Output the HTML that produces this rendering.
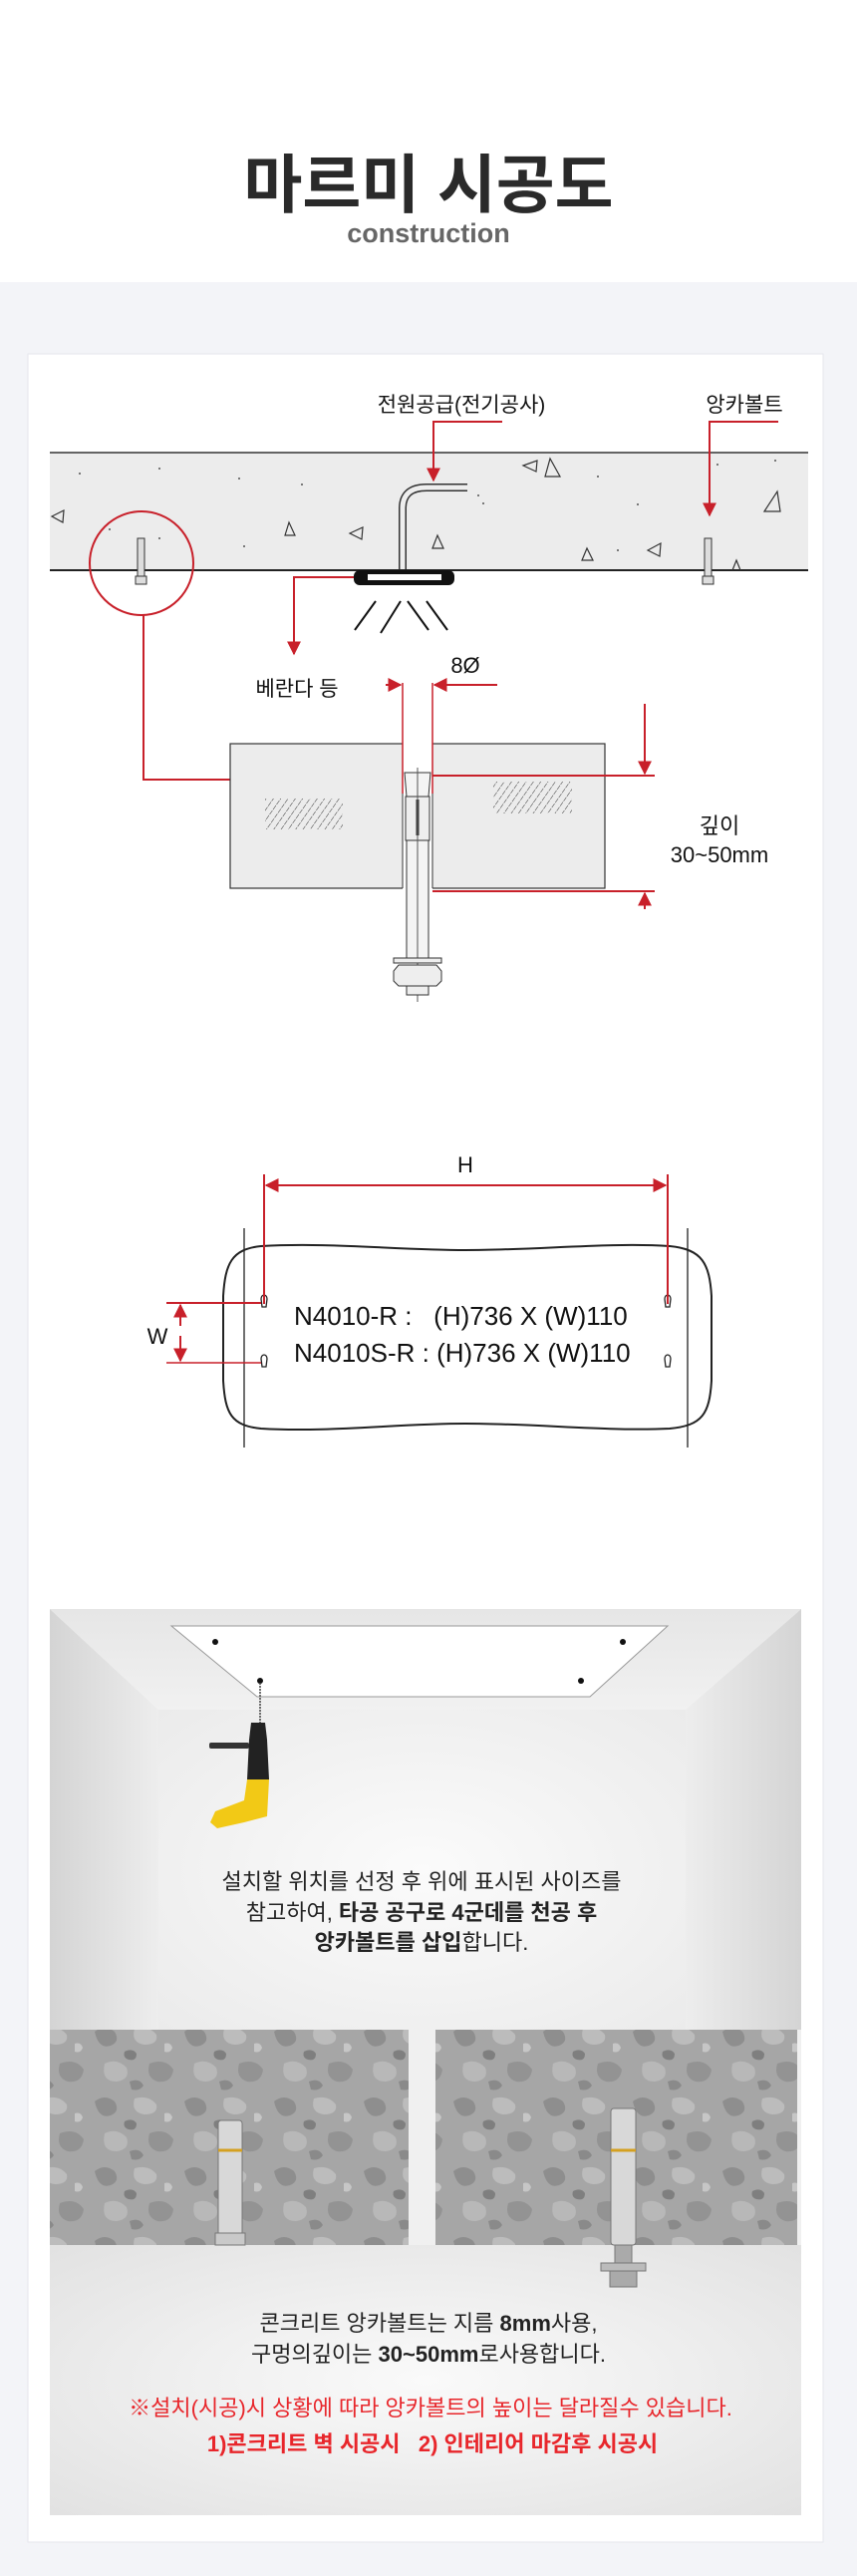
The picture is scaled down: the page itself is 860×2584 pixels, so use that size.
<!DOCTYPE html>
<html><head><meta charset="utf-8"><style>
html,body{margin:0;padding:0;background:#f3f4f8}
svg{display:block}
text{font-family:"Liberation Sans","Noto Sans CJK KR",sans-serif}
</style></head><body>
<svg width="860" height="2584" viewBox="0 0 860 2584" xmlns="http://www.w3.org/2000/svg">
<defs>
<marker id="ar" viewBox="0 0 10 10" refX="9" refY="5" markerWidth="7" markerHeight="7" orient="auto"><path d="M0,0 L10,5 L0,10 z" fill="#c8202a"/></marker>
<linearGradient id="lw" x1="0" x2="1"><stop offset="0" stop-color="#d4d4d4"/><stop offset="1" stop-color="#ededed"/></linearGradient>
<linearGradient id="rw" x1="1" x2="0"><stop offset="0" stop-color="#d4d4d4"/><stop offset="1" stop-color="#ededed"/></linearGradient>
<linearGradient id="cw" x1="0" y1="0" x2="0" y2="1"><stop offset="0" stop-color="#e6e6e6"/><stop offset="1" stop-color="#f1f1f1"/></linearGradient>
<radialGradient id="bw" cx="0.5" cy="0.5" r="0.7"><stop offset="0" stop-color="#fbfbfb"/><stop offset="1" stop-color="#ebebeb"/></radialGradient>
<radialGradient id="fl" cx="0.5" cy="0.5" r="0.7"><stop offset="0" stop-color="#fafafa"/><stop offset="1" stop-color="#e2e2e2"/></radialGradient>
<pattern id="conc" width="90" height="70" patternUnits="userSpaceOnUse">
<rect width="90" height="70" fill="#a6a6a6"/>
<path d="M5,8 q10,-8 20,0 q6,10 -4,14 q-12,4 -16,-14z" fill="#8e8e8e"/>
<path d="M45,5 q14,-4 22,6 q2,10 -12,10 q-14,-2 -10,-16z" fill="#bcbcbc"/>
<path d="M60,40 q16,-6 24,6 q-2,14 -16,12 q-12,-4 -8,-18z" fill="#939393"/>
<path d="M15,40 q12,-6 22,4 q4,12 -10,14 q-16,0 -12,-18z" fill="#b8b8b8"/>
<path d="M35,28 q8,-4 12,2 q0,8 -8,6 q-6,-2 -4,-8z" fill="#7f7f7f"/>
<path d="M75,20 q6,-2 8,4 q-2,6 -8,4z" fill="#c6c6c6"/>
<path d="M40,58 q10,-4 14,4 q-4,6 -12,4z" fill="#8a8a8a"/>
</pattern>
<pattern id="hatch" width="6" height="6" patternUnits="userSpaceOnUse" patternTransform="rotate(35)"><line x1="0" y1="0" x2="0" y2="6" stroke="#333" stroke-width="1" stroke-dasharray="4,1"/></pattern>
</defs>

<rect x="0" y="0" width="860" height="283" fill="#ffffff"/>
<text x="430" y="208" font-size="64" font-weight="bold" fill="#2a2a2a" text-anchor="middle">마르미 시공도</text>
<text x="430" y="243" font-size="27" font-weight="bold" fill="#666" text-anchor="middle">construction</text>

<rect x="28" y="355" width="798" height="2195" fill="#ffffff" stroke="#e4e6ec"/>

<!-- ceiling slab -->
<rect x="50" y="454" width="761" height="118" fill="#ececec"/>
<line x1="50" y1="454" x2="811" y2="454" stroke="#333" stroke-width="1.5"/>
<line x1="50" y1="572" x2="811" y2="572" stroke="#222" stroke-width="2"/>
<g fill="none" stroke="#333" stroke-width="1.2">
<path d="M525,467 L539,462 L538,473 Z"/><path d="M547,478 L552,460 L562,478 Z"/><path d="M52,518 L64,512 L63,524 Z"/>
<path d="M286,537 L290,524 L296,537 Z"/><path d="M351,535 L364,529 L363,541 Z"/><path d="M434,550 L439,537 L445,550 Z"/>
<path d="M584,562 L589,550 L595,562 Z"/><path d="M650,552 L663,545 L662,558 Z"/><path d="M767,513 L780,493 L783,513 Z"/><path d="M735,572 L739,562 L743,572"/>
</g>
<g fill="#555"><circle cx="160" cy="470" r="1"/><circle cx="240" cy="480" r="1"/><circle cx="303" cy="486" r="1"/><circle cx="480" cy="497" r="1"/><circle cx="600" cy="478" r="1"/><circle cx="720" cy="466" r="1"/><circle cx="778" cy="462" r="1"/><circle cx="110" cy="531" r="1"/><circle cx="245" cy="548" r="1"/><circle cx="485" cy="505" r="1"/><circle cx="640" cy="506" r="1"/><circle cx="80" cy="475" r="1"/><circle cx="160" cy="540" r="1"/><circle cx="620" cy="552" r="1"/></g>
<!-- anchor bolts in slab -->
<g stroke="#333" fill="#ddd" stroke-width="1"><rect x="138" y="540" width="7" height="40"/><rect x="136" y="578" width="11" height="8"/><rect x="707" y="540" width="7" height="40"/><rect x="705" y="578" width="11" height="8"/></g>
<!-- pipe -->
<path d="M404,571 L404,510 Q404,489 428,489 L469,489" fill="none" stroke="#333" stroke-width="8"/>
<path d="M404,571 L404,510 Q404,489 428,489 L469,489" fill="none" stroke="#eee" stroke-width="5"/>
<!-- fixture -->
<rect x="355" y="572" width="101" height="15" rx="6" fill="#111"/>
<rect x="369" y="576" width="74" height="6" fill="#fff"/>
<g stroke="#111" stroke-width="2"><line x1="377" y1="603" x2="356" y2="632"/><line x1="402" y1="603" x2="382" y2="635"/><line x1="409" y1="603" x2="430" y2="632"/><line x1="428" y1="603" x2="449" y2="632"/></g>

<!-- labels top -->
<text x="463" y="413" font-size="21" fill="#111" text-anchor="middle">전원공급(전기공사)</text>
<text x="747" y="413" font-size="21" fill="#111" text-anchor="middle">앙카볼트</text>
<g stroke="#c8202a" stroke-width="2" fill="none">
<polyline points="504,423 435,423 435,482" marker-end="url(#ar)"/>
<polyline points="781,423 712,423 712,517" marker-end="url(#ar)"/>
<polyline points="355,579 295,579 295,656" marker-end="url(#ar)"/>
<circle cx="142" cy="565" r="52"/>
<polyline points="144,617 144,782 239,782"/>
</g>
<text x="298" y="698" font-size="21" fill="#111" text-anchor="middle">베란다 등</text>

<!-- detail block -->
<rect x="231" y="746" width="376" height="145" fill="#ececec" stroke="#333" stroke-width="1.2"/>
<rect x="266" y="801" width="78" height="31" fill="url(#hatch)"/>
<rect x="495" y="784" width="79" height="32" fill="url(#hatch)"/>
<rect x="404" y="744" width="30" height="149" fill="#fff"/>
<line x1="404" y1="746" x2="404" y2="891" stroke="#333"/><line x1="434" y1="746" x2="434" y2="891" stroke="#333"/>
<!-- bolt -->
<path d="M406,775 L432,775 L430,799 L408,799 Z" fill="#f4f4f4" stroke="#333"/>
<rect x="407" y="799" width="24" height="44" fill="#eee" stroke="#333"/>
<line x1="419" y1="802" x2="419" y2="838" stroke="#333" stroke-width="3"/>
<rect x="408" y="843" width="22" height="122" fill="#f4f4f4" stroke="#333"/>
<line x1="419" y1="770" x2="419" y2="1005" stroke="#555" stroke-width="1"/>
<rect x="395" y="961" width="48" height="5" fill="#eee" stroke="#333"/>
<path d="M400,968 L438,968 L443,974 L443,984 L438,989 L400,989 L395,984 L395,974 Z" fill="#eee" stroke="#333"/>
<rect x="408" y="989" width="22" height="9" fill="#eee" stroke="#333"/>
<!-- 8Ø dimension -->
<text x="467" y="675" font-size="22" fill="#111" text-anchor="middle">8Ø</text>
<g stroke="#c8202a" stroke-width="2" fill="none">
<line x1="387" y1="687" x2="402" y2="687" marker-end="url(#ar)"/>
<line x1="499" y1="687" x2="436" y2="687" marker-end="url(#ar)"/>
<line x1="404" y1="685" x2="404" y2="796" stroke-width="1.5"/>
<line x1="434" y1="685" x2="434" y2="796" stroke-width="1.5"/>
<line x1="434" y1="778" x2="657" y2="778"/>
<line x1="434" y1="894" x2="657" y2="894"/>
<line x1="647" y1="706" x2="647" y2="776" marker-end="url(#ar)"/>
<line x1="647" y1="912" x2="647" y2="896" marker-end="url(#ar)"/>
</g>
<text x="722" y="836" font-size="22" fill="#111" text-anchor="middle">깊이</text>
<text x="722" y="865" font-size="22" fill="#111" text-anchor="middle">30~50mm</text>

<!-- plate diagram -->
<g stroke="#222" stroke-width="1.3" fill="none">
<line x1="245" y1="1232" x2="245" y2="1452"/><line x1="690" y1="1232" x2="690" y2="1452"/>
<path d="M262,1250 C330,1246 400,1254 467,1254 C540,1254 610,1246 672,1250 C705,1253 712,1268 714,1300 L714,1385 C712,1418 705,1430 672,1433 C610,1436 540,1428 467,1428 C400,1428 330,1437 262,1433 C232,1430 226,1418 224,1385 L224,1300 C226,1268 232,1253 262,1250 Z" stroke-width="2"/>
<path d="M262,1303 a3,4 0 1 1 6,0 l-1,8 h-4 z"/><path d="M262,1363 a3,4 0 1 1 6,0 l-1,8 h-4 z"/>
<path d="M667,1303 a3,4 0 1 1 6,0 l-1,8 h-4 z"/><path d="M667,1363 a3,4 0 1 1 6,0 l-1,8 h-4 z"/>
</g>
<g stroke="#c8202a" stroke-width="2" fill="none">
<line x1="265" y1="1178" x2="265" y2="1308"/><line x1="670" y1="1178" x2="670" y2="1308"/>
<line x1="300" y1="1189" x2="267" y2="1189" marker-end="url(#ar)"/>
<line x1="300" y1="1189" x2="668" y2="1189" marker-end="url(#ar)"/>
<line x1="167" y1="1307" x2="262" y2="1307"/><line x1="167" y1="1367" x2="262" y2="1367" stroke-width="1.5"/>
<line x1="181" y1="1330" x2="181" y2="1309" marker-end="url(#ar)"/>
<line x1="181" y1="1340" x2="181" y2="1365" marker-end="url(#ar)"/>
</g>
<text x="467" y="1176" font-size="22" fill="#111" text-anchor="middle">H</text>
<text x="158" y="1348" font-size="22" fill="#111" text-anchor="middle">W</text>
<text x="295" y="1329" font-size="26" fill="#111" xml:space="preserve">N4010-R :   (H)736 X (W)110</text>
<text x="295" y="1366" font-size="26" fill="#111">N4010S-R : (H)736 X (W)110</text>

<!-- room -->
<rect x="50" y="1614" width="754" height="909" fill="#f0f0f0"/>
<polygon points="50,1614 159,1715 159,2036 50,2036" fill="url(#lw)"/>
<polygon points="804,1614 688,1715 688,2036 804,2036" fill="url(#rw)"/>
<polygon points="50,1614 804,1614 688,1715 159,1715" fill="url(#cw)"/>
<rect x="159" y="1715" width="529" height="321" fill="url(#bw)"/>
<polygon points="172,1631 670,1631 592,1702 258,1702" fill="#fff" stroke="#999"/>
<g fill="#111"><circle cx="216" cy="1647" r="3"/><circle cx="625" cy="1647" r="3"/><circle cx="261" cy="1686" r="3"/><circle cx="583" cy="1686" r="3"/></g>
<!-- drill -->
<line x1="261" y1="1688" x2="261" y2="1728" stroke="#444" stroke-width="1.5" stroke-dasharray="2,1"/>
<rect x="210" y="1748" width="40" height="6" rx="2" fill="#333"/>
<path d="M252,1728 L266,1728 L268,1745 L270,1785 L248,1785 L250,1745 Z" fill="#222"/>
<path d="M248,1785 L270,1785 L268,1822 L245,1828 L218,1834 L211,1828 L216,1817 L245,1806 Z" fill="#f2c916"/>
<!-- text 1 -->
<g font-size="22" fill="#222" text-anchor="middle">
<text x="423" y="1895">설치할 위치를 선정 후 위에 표시된 사이즈를</text>
<text x="423" y="1926">참고하여, <tspan font-weight="bold">타공 공구로 4군데를 천공 후</tspan></text>
<text x="423" y="1956"><tspan font-weight="bold">앙카볼트를 삽입</tspan>합니다.</text>
</g>
<!-- concrete -->
<rect x="50" y="2036" width="360" height="216" fill="url(#conc)"/>
<rect x="437" y="2036" width="363" height="216" fill="url(#conc)"/>
<rect x="50" y="2252" width="754" height="271" fill="url(#fl)"/>
<!-- anchors -->
<g stroke="#777" stroke-width="1">
<rect x="219" y="2127" width="24" height="115" rx="3" fill="#d8d8d8"/>
<rect x="216" y="2240" width="30" height="12" fill="#c9c9c9"/>
<line x1="219" y1="2157" x2="243" y2="2157" stroke="#d4a020" stroke-width="3"/>
<rect x="613" y="2115" width="25" height="137" rx="3" fill="#d8d8d8"/>
<line x1="613" y1="2157" x2="638" y2="2157" stroke="#d4a020" stroke-width="3"/>
<rect x="617" y="2252" width="17" height="18" fill="#aaa"/>
<rect x="603" y="2270" width="45" height="8" fill="#bbb"/>
<rect x="612" y="2278" width="27" height="16" fill="#aaa"/>
</g>
<!-- text 2 -->
<g font-size="22" fill="#222" text-anchor="middle">
<text x="430" y="2338">콘크리트 앙카볼트는 지름 <tspan font-weight="bold">8mm</tspan>사용,</text>
<text x="430" y="2369">구멍의깊이는 <tspan font-weight="bold">30~50mm</tspan>로사용합니다.</text>
</g>
<g font-size="22" fill="#e8262b" text-anchor="middle">
<text x="432" y="2423">※설치(시공)시 상황에 따라 앙카볼트의 높이는 달라질수 있습니다.</text>
<text x="434" y="2459" font-weight="bold" xml:space="preserve">1)콘크리트 벽 시공시   2) 인테리어 마감후 시공시</text>
</g>
</svg>
</body></html>
